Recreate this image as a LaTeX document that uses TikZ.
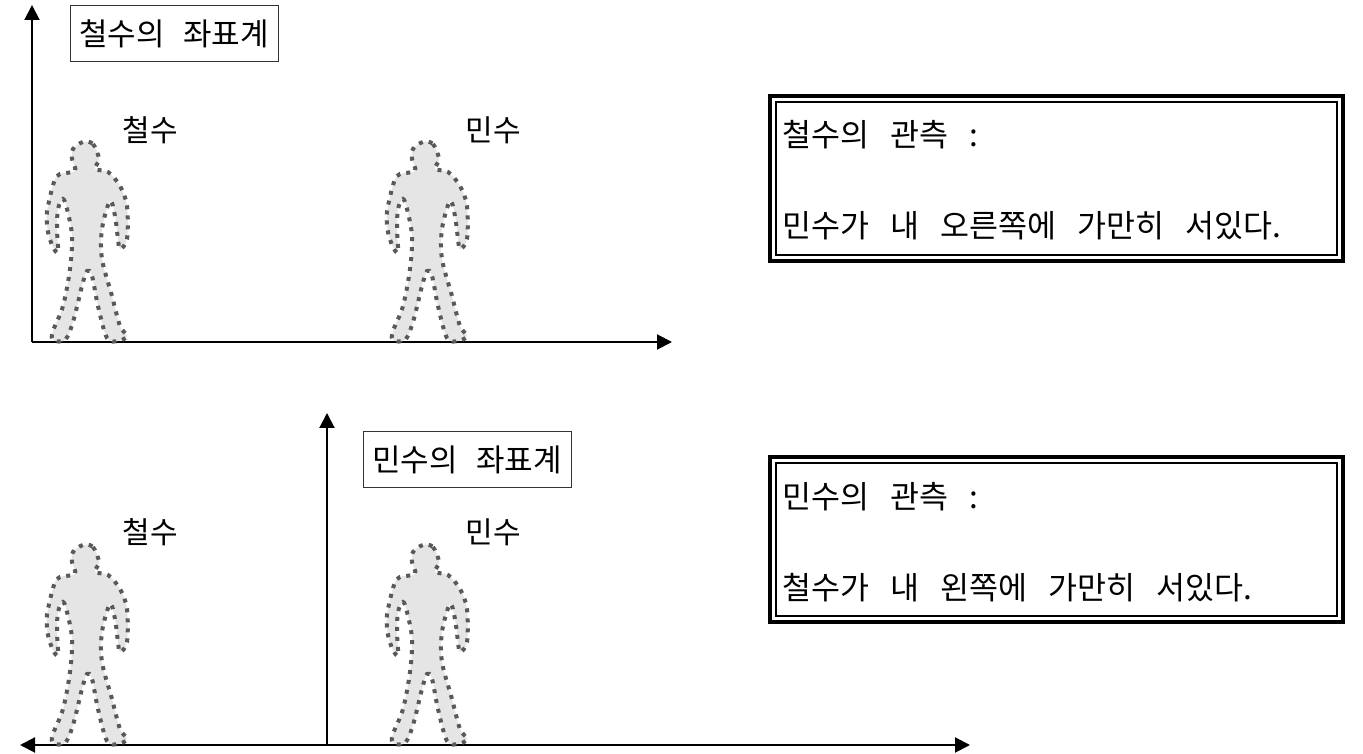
\documentclass[tikz,border=0pt]{standalone}
\usepackage{fontspec}
\setmainfont[WordSpace=2.6]{Noto Sans CJK KR}
\newfontfamily\notefont[WordSpace=3.0]{Noto Sans CJK KR}
\usetikzlibrary{arrows.meta}
\begin{document}
\begin{tikzpicture}[x=1pt,y=1pt,
  axis/.style={line width=2pt,-{Triangle[length=15pt,width=15pt]}},
  axisboth/.style={line width=2pt,{Triangle[length=15pt,width=15pt]}-{Triangle[length=15pt,width=15pt]}},
  framebox/.style={draw=black!80,line width=1pt,minimum width=208pt,minimum height=56pt,inner sep=0pt,font=\fontsize{31}{34}\selectfont},
  plabel/.style={font=\fontsize{30}{33}\selectfont,inner sep=0pt},
  note/.style={font=\notefont\fontsize{31.5}{34}\selectfont,inner sep=0pt,anchor=west},
  person/.pic={
    \draw[fill=black!10,draw=black!65,line width=4pt,dash pattern=on 4pt off 6pt]
      plot[smooth cycle,tension=0.55] coordinates {
        (-4,200) (6,198) (12,183) (8,173) (21,170) (33,156) (40,136) (40,103)
        (33,93) (31,103) (28,126) (23,141) (15,113) (15,83) (25,46) (33,16)
        (40,6) (31,1) (20,4) (11,36) (5,66) (0,71) (-5,56) (-14,20)
        (-22,2) (-34,2) (-34,11) (-24,36) (-17,73) (-15,106) (-20,133)
        (-24,143) (-29,133) (-30,113) (-29,90) (-34,95) (-39,110) (-40,130)
        (-33,160) (-27,168) (-12,171) (-15,183) (-14,193)};
  }]
\useasboundingbox (0,0) rectangle (1363,754);

% ---- upper panel: Cheolsu's frame ----
\coordinate (o1) at (32,412);
\coordinate (y1) at (32,749);
\coordinate (x1) at (672,412);
\draw[axis] (o1) -- (y1);
\draw[axis] (o1) -- (x1);
\node[framebox] (f1) at (174,720) {철수의 좌표계};
\pic at (87,412) {person};
\pic at (427,412) {person};
\node[plabel] (c1) at (150,624) {철수};
\node[plabel] (m1) at (493,624) {민수};

\draw[line width=4pt] (770,493) rectangle (1343,658);
\draw[line width=2pt] (776,499) rectangle (1337,652);
\node[note] (t1a) at (782,619) {철수의 관측 :};
\node[note] (t1b) at (782,528) {민수가 내 오른쪽에 가만히 서있다.};

% ---- lower panel: Minsu's frame ----
\coordinate (o2) at (327,9);
\coordinate (y2) at (327,341);
\coordinate (xl) at (20,9);
\coordinate (xr) at (970,9);
\draw[axis] (o2) -- (y2);
\draw[axisboth] (xl) -- (xr);
\node[framebox] (f2) at (467,294) {민수의 좌표계};
\pic at (87,9) {person};
\pic at (427,9) {person};
\node[plabel] (c2) at (150,222) {철수};
\node[plabel] (m2) at (493,222) {민수};

\draw[line width=4pt] (770,132) rectangle (1343,297);
\draw[line width=2pt] (776,138) rectangle (1337,291);
\node[note] (t2a) at (782,257) {민수의 관측 :};
\node[note] (t2b) at (782,166) {철수가 내 왼쪽에 가만히 서있다.};
\end{tikzpicture}
\end{document}
